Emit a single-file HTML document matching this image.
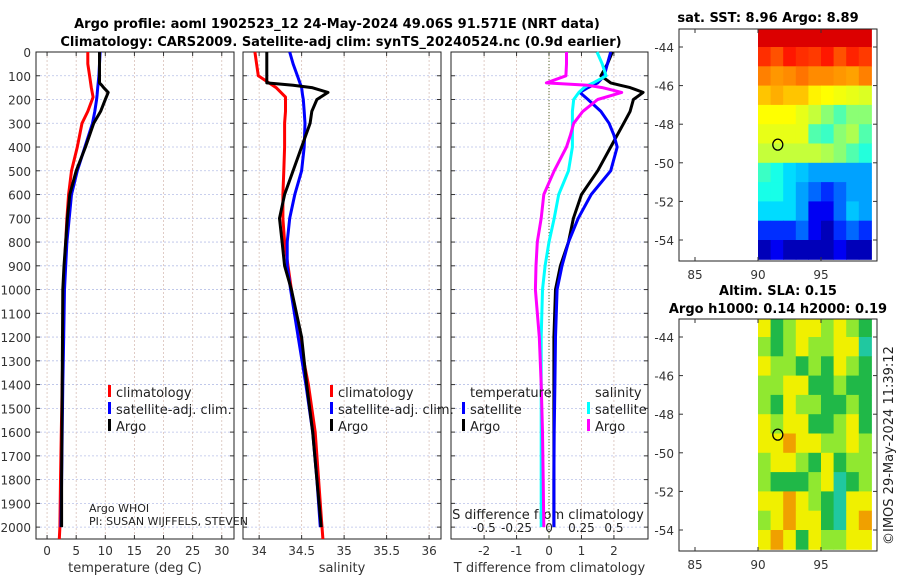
<!DOCTYPE html>
<html><head><meta charset="utf-8"><style>
body{margin:0;background:#fff;}
svg{display:block;font-family:"DejaVu Sans","Liberation Sans",sans-serif;}
</style></head><body>
<svg id="fig" width="900" height="580" viewBox="0 0 900 580" xmlns="http://www.w3.org/2000/svg">
<text x="337" y="28" font-size="13" font-weight="bold" text-anchor="middle">Argo profile: aoml 1902523_12 24-May-2024 49.06S 91.571E (NRT data)</text>
<text x="341" y="46" font-size="13" font-weight="bold" text-anchor="middle">Climatology: CARS2009. Satellite-adj clim: synTS_20240524.nc (0.9d earlier)</text>
<text x="768" y="22" font-size="13" font-weight="bold" text-anchor="middle">sat. SST: 8.96 Argo: 8.89</text>
<text x="778" y="295" font-size="13" font-weight="bold" text-anchor="middle">Altim. SLA: 0.15</text>
<text x="778" y="313" font-size="13" font-weight="bold" text-anchor="middle">Argo h1000: 0.14 h2000: 0.19</text>
<text transform="translate(893,545) rotate(-90)" font-size="13" fill="#222">©IMOS 29-May-2024 11:39:12</text>
<g id="plots"></g>
</svg>
<script>
// ---------- profile data ----------
const depthClim = [0,50,100,150,190,250,300,400,500,600,700,800,900,1000,1200,1400,1600,1800,2000,2050];
const tempClim  = [7.0,7.0,7.3,7.6,7.9,7.0,6.0,5.2,4.2,3.7,3.4,3.2,3.0,2.9,2.75,2.6,2.45,2.3,2.2,2.1];
const salClim   = [33.95,33.97,33.99,34.2,34.31,34.31,34.30,34.30,34.29,34.28,34.28,34.30,34.34,34.38,34.47,34.58,34.66,34.70,34.74,34.75];
const depthSat  = [0,50,100,150,180,200,250,300,400,500,600,700,800,900,1000,1200,1400,1600,1800,2000];
const tempSat   = [9.1,9.0,8.9,8.7,8.6,8.5,8.2,7.8,6.5,5.2,4.2,3.8,3.4,3.2,3.0,2.85,2.7,2.6,2.5,2.4];
const salSat    = [34.36,34.40,34.45,34.50,34.51,34.52,34.53,34.54,34.53,34.50,34.42,34.36,34.33,34.33,34.37,34.46,34.55,34.63,34.68,34.72];
const depthArgo = [0,50,100,130,140,150,170,200,250,300,400,500,600,700,800,900,1000,1200,1400,1600,1800,2000];
const tempArgo  = [9.0,9.0,9.0,9.0,9.4,9.7,10.5,10.0,9.2,8.0,6.6,5.0,3.9,3.5,3.2,2.9,2.7,2.65,2.6,2.55,2.5,2.5];
const salArgo   = [34.09,34.09,34.09,34.09,34.4,34.62,34.81,34.68,34.62,34.6,34.5,34.4,34.3,34.24,34.27,34.3,34.38,34.5,34.56,34.63,34.68,34.73];
// differences
const depthDiff = [0,50,100,130,140,150,170,200,250,300,350,400,500,600,700,800,900,1000,1200,1400,1600,1800,2000];
const dTsat  = [1.9,1.8,1.7,1.5,1.35,1.2,0.95,1.2,1.6,1.85,2.0,2.1,1.9,1.3,0.9,0.6,0.4,0.25,0.2,0.18,0.16,0.15,0.15];
const dTargo = [1.95,1.8,1.6,1.9,2.2,2.5,2.9,2.6,2.5,2.3,2.1,1.9,1.5,1.0,0.75,0.6,0.35,0.2,0.15,0.15,0.15,0.15,0.15];
const dSsat  = [0.37,0.41,0.44,0.34,0.3,0.27,0.23,0.19,0.18,0.18,0.18,0.18,0.15,0.075,0.04,0.0,-0.03,-0.05,-0.06,-0.06,-0.06,-0.06,-0.06];
const dSargo = [0.135,0.135,0.13,-0.02,0.3,0.41,0.56,0.375,0.26,0.19,0.165,0.135,0.04,-0.04,-0.06,-0.09,-0.1,-0.105,-0.075,-0.06,-0.05,-0.045,-0.04];
// ticks
const depthTicks = [0,100,200,300,400,500,600,700,800,900,1000,1100,1200,1300,1400,1500,1600,1700,1800,1900,2000];
const tempTicks = [0,5,10,15,20,25,30];
const salTicks = [34,34.5,35,35.5,36];
const dTTicks = [-2,-1,0,1,2];
const dSTicks = [-0.5,-0.25,0,0.25,0.5];
const dSTickLabels = ["-0.5","-0.25","0","0.25","0.5"];
// ---------- map data ----------
const mapLons = [90,91,92,93,94,95,96,97,98,99];
const mapLats = [-43,-44,-45,-46,-47,-48,-49,-50,-51,-52,-53,-54,-55];
const sstGrid = [
 [12,12,12,12,12,12,12,12,12],
 [11.3,11,11.5,11.3,11.2,11.5,11,11.4,11.2],
 [10.6,10.4,10.5,10.7,10.5,10.5,10.4,10.3,10.6],
 [10,10.2,10,10,9.6,9.5,9.4,9.3,9.2],
 [9.5,9.5,9.5,9.3,9,8.5,8,8.5,8.5],
 [9.3,9.3,9.3,9.3,8,7.8,8.5,8.8,8],
 [9,9,9,9,9,8.8,8.5,8,7.6],
 [7.8,7.5,7,6.8,6.5,6.5,6.5,6.5,6.5],
 [7.5,7.5,7,6.5,6,5.5,6,6.5,6.5],
 [7,7,7,6.5,5,5,6,6.8,6.5],
 [5.5,5.5,5.5,6,5,4.5,5.5,6,5.5],
 [4.5,5,4.5,4.5,4.5,4.5,5,4.5,4.5]
];
const slaGrid = [
 [3,1,2,3,3,2,3,2,1],
 [2,1,2,3,2,2,3,3,0],
 [3,2,2,1,2,1,3,2,1],
 [2,2,3,3,1,1,2,1,1],
 [2,1,3,2,2,1,1,2,1],
 [3,2,3,3,1,1,2,3,1],
 [3,3,4,3,3,2,2,3,2],
 [2,3,3,2,1,3,1,2,2],
 [2,1,1,1,2,3,0,1,2],
 [3,3,4,3,2,1,0,3,3],
 [2,3,4,3,3,1,0,3,4],
 [3,4,3,1,3,2,2,3,3]
];
const mapLonTicks = [85,90,95];
const mapLatTicks = [-44,-46,-48,-50,-52,-54];
const argoLon = 91.571, argoLat = -49.06;

const NS="http://www.w3.org/2000/svg";
const root=document.getElementById('plots');
function el(tag,attrs,parent,text){const e=document.createElementNS(NS,tag);for(const k in attrs)e.setAttribute(k,attrs[k]);if(text!==undefined)e.textContent=text;(parent||root).appendChild(e);return e;}

const Y0=52, Y1=539, D0=0, D1=2050;
const yD=d=>Y0+(d-D0)/(D1-D0)*(Y1-Y0);

function panel(name,x0,x1,v0,v1,ticks,labels,xlabel){
  const g=el('g',{});
  
  
  const sx=v=>x0+(v-v0)/(v1-v0)*(x1-x0);
  for(const t of depthTicks){
    const l=el('line',{x1:x0,x2:x1,y1:yD(t),y2:yD(t),stroke:'#b8c0e8','stroke-width':0.8,'stroke-dasharray':'2,2'},g);
    
    
  }
  ticks.forEach((t,i)=>{
    const l=el('line',{x1:sx(t),x2:sx(t),y1:Y0,y2:Y1,stroke:'#d8c0b8','stroke-width':0.8,'stroke-dasharray':'2,2'},g);
    
    
    el('line',{x1:sx(t),x2:sx(t),y1:Y1,y2:Y1-4,stroke:'#333'},g);
    el('line',{x1:sx(t),x2:sx(t),y1:Y0,y2:Y0+4,stroke:'#333'},g);
    const tx=el('text',{x:sx(t),y:Y1+16,'font-size':12,'text-anchor':'middle',fill:'#333'},g,labels[i]);
    
    
  });
  for(const t of depthTicks){
    el('line',{x1:x0,x2:x0+4,y1:yD(t),y2:yD(t),stroke:'#333'},g);
    el('line',{x1:x1,x2:x1-4,y1:yD(t),y2:yD(t),stroke:'#333'},g);
  }
  const fr=el('rect',{x:x0,y:Y0,width:x1-x0,height:Y1-Y0,fill:'none',stroke:'#222','stroke-width':1},g);
  
  
  const xl=el('text',{x:(x0+x1)/2,y:Y1+33,'font-size':13,'text-anchor':'middle',fill:'#333'},g,xlabel);
  
  
  return {g,sx};
}
function line(g,sx,ds,vs,color,name){
  const p=el('polyline',{points:ds.map((d,i)=>sx(vs[i]).toFixed(1)+','+yD(d).toFixed(1)).join(' '),fill:'none',stroke:color,'stroke-width':3,'stroke-linejoin':'round'},g);
  
  
}
function legend(g,x,y,items){
  items.forEach((it,i)=>{
    if(it[0]) el('rect',{x:x,y:y+i*17-12,width:3,height:12,fill:it[0]},g);
    const t=el('text',{x:x+8,y:y+i*17,'font-size':13,fill:'#222'},g,it[1]);
    
    
  });
}

for(const t of depthTicks){
  const tx=el('text',{x:31,y:yD(t)+5,'font-size':12,'text-anchor':'end',fill:'#333'},root,String(t));
  
  
}

const p1=panel('temperature',36,234,-1.9,32.1,tempTicks,tempTicks.map(String),'temperature (deg C)');
line(p1.g,p1.sx,depthClim,tempClim,'#f00','temp-climatology-line');
line(p1.g,p1.sx,depthSat,tempSat,'#00f','temp-satellite-line');
line(p1.g,p1.sx,depthArgo,tempArgo,'#000','temp-argo-line');
legend(p1.g,108,397,[['#f00','climatology'],['#00f','satellite-adj. clim.'],['#000','Argo']]);
el('text',{x:89,y:512,'font-size':11,fill:'#222'},p1.g,'Argo WHOI');
el('text',{x:89,y:525,'font-size':11,fill:'#222'},p1.g,'PI: SUSAN WIJFFELS, STEVEN');

const p2=panel('salinity',243,441,33.81,36.14,salTicks,['34','34.5','35','35.5','36'],'salinity');
line(p2.g,p2.sx,depthClim,salClim,'#f00','sal-climatology-line');
line(p2.g,p2.sx,depthSat,salSat,'#00f','sal-satellite-line');
line(p2.g,p2.sx,depthArgo,salArgo,'#000','sal-argo-line');
legend(p2.g,330,397,[['#f00','climatology'],['#00f','satellite-adj. clim.'],['#000','Argo']]);

const p3=panel('difference',451,648,-3.02,3.05,dTTicks,dTTicks.map(String),'T difference from climatology');
const sxS=v=>p3.sx(v*4.0);
dSTicks.forEach((t,i)=>{
  const tx=el('text',{x:sxS(t),y:532,'font-size':12,'text-anchor':'middle',fill:'#222'},p3.g,dSTickLabels[i]);
  
  
});
const st=el('text',{x:548,y:519,'font-size':13,'text-anchor':'middle',fill:'#222'},p3.g,'S difference from climatology');


el('line',{x1:p3.sx(0),x2:p3.sx(0),y1:Y0,y2:Y1,stroke:'#556b2f','stroke-width':1,'stroke-dasharray':'1,2'},p3.g);
line(p3.g,p3.sx,depthDiff,dTargo,'#000','t-diff-argo-line');
line(p3.g,p3.sx,depthDiff,dTsat,'#00f','t-diff-satellite-line');
line(p3.g,sxS,depthDiff,dSsat,'#0ff','s-diff-satellite-line');
line(p3.g,sxS,depthDiff,dSargo,'#f0f','s-diff-argo-line');
legend(p3.g,462,397,[[null,'temperature'],['#00f','satellite'],['#000','Argo']]);
legend(p3.g,587,397,[[null,'salinity'],['#0ff','satellite'],['#f0f','Argo']]);

function jet(v,lo,hi){
  let t=(v-lo)/(hi-lo);t=Math.max(0,Math.min(1,t));
  const f=x=>Math.round(255*Math.max(0,Math.min(1,1.5-Math.abs(4*t-x))));
  return `rgb(${f(3)},${f(2)},${f(1)})`;
}
const slaColors=['#20c8a0','#20b848','#90e830','#f0f000','#f0a000'];
function map(name,top,grid,colorFn){
  const x0=679,x1=877,y1=top+232;
  const sx=l=>695+(l-85)*12.6;
  const sy=la=>top+18+(-44-la)*19.3;
  const g=el('g',{});
  
  
  el('rect',{x:x0,y:top,width:x1-x0,height:232,fill:'#fff'},g);
  grid.forEach((row,r)=>row.forEach((v,c)=>{
    const ya=Math.max(top,sy(mapLats[r])),yb=Math.min(y1,sy(mapLats[r+1]));
    const xa=sx(mapLons[c]),xb=Math.min(x1,sx(mapLons[c+1]));
    const rc=el('rect',{x:xa.toFixed(1),y:ya.toFixed(1),width:(xb-xa+0.5).toFixed(1),height:(yb-ya+0.5).toFixed(1),fill:colorFn(v)},g);
    
    
  }));
  const fr=el('rect',{x:x0,y:top,width:x1-x0,height:232,fill:'none',stroke:'#222'},g);
  
  
  for(const t of mapLonTicks){
    el('line',{x1:sx(t),x2:sx(t),y1:y1,y2:y1-4,stroke:'#333'},g);
    el('line',{x1:sx(t),x2:sx(t),y1:top,y2:top+4,stroke:'#333'},g);
    const tx=el('text',{x:sx(t),y:y1+18,'font-size':12,'text-anchor':'middle',fill:'#333'},g,String(t));
    
    
  }
  for(const t of mapLatTicks){
    el('line',{x1:x0,x2:x0+4,y1:sy(t),y2:sy(t),stroke:'#333'},g);
    el('line',{x1:x1,x2:x1-4,y1:sy(t),y2:sy(t),stroke:'#333'},g);
    const tx=el('text',{x:674,y:sy(t)+5,'font-size':12,'text-anchor':'end',fill:'#333'},g,String(t));
    
    
  }
  const c=el('ellipse',{cx:sx(argoLon),cy:sy(argoLat),rx:5,ry:5.5,fill:'none',stroke:'#000','stroke-width':1.3},g);
  
  
}
map('sst-map',29,sstGrid,v=>jet(v,4,12.8));
map('sla-map',319,slaGrid,v=>slaColors[v]);
</script>
</body></html>
